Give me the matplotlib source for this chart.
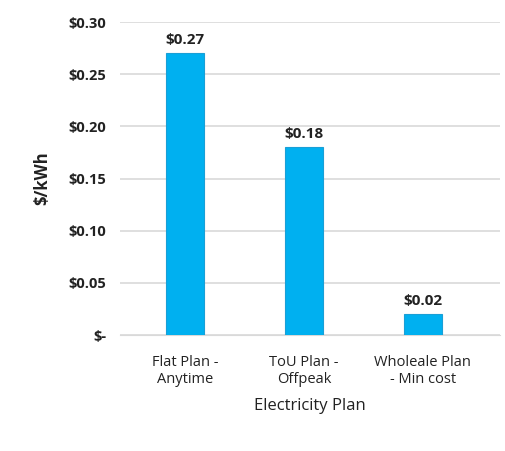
import matplotlib
matplotlib.use('Agg')
import matplotlib.pyplot as plt

plans = ['Flat Plan -\nAnytime', 'ToU Plan -\nOffpeak', 'Wholeale Plan\n- Min cost']
costs = [0.27, 0.18, 0.02]
ticks = [0.0, 0.05, 0.10, 0.15, 0.20, 0.25, 0.30]
tick_labels = ['$-', '$0.05', '$0.10', '$0.15', '$0.20', '$0.25', '$0.30']

plt.rcParams['font.family'] = ['Open Sans', 'DejaVu Sans']

fig = plt.figure(figsize=(5.06, 4.51), dpi=100)
ax = fig.add_axes([0.237, 0.257, 0.751, 0.694])

x = range(len(plans))
ax.bar(x, costs, width=0.32, color='#00B0F0', edgecolor='#1a9fd6', linewidth=0.8, zorder=3)
for i, c in enumerate(costs):
    ax.text(i, c + 0.006, '$%.2f' % c, ha='center', va='bottom',
            fontsize=11, fontweight='bold', color='#222222')

ax.set_xlim(-0.55, 2.65)
ax.set_ylim(0, 0.30)
ax.set_yticks(ticks)
ax.set_yticklabels(tick_labels, fontsize=10.5, fontweight='bold', color='#222222')
ax.set_xticks(list(x))
ax.set_xticklabels(plans, fontsize=10.5, color='#222222')
ax.yaxis.grid(True, color='#d9d9d9', linewidth=1.2, zorder=0)
for s in ['top', 'right', 'left']:
    ax.spines[s].set_visible(False)
ax.spines['bottom'].set_color('#d9d9d9')
ax.tick_params(length=0)
ax.tick_params(axis='x', pad=14)
ax.tick_params(axis='y', pad=10)
ax.set_ylabel('$/kWh', fontsize=12, fontweight='bold', color='#222222', labelpad=12)
ax.set_xlabel('Electricity Plan', fontsize=12, color='#222222', labelpad=8)

fig.savefig('out.png', dpi=100)
